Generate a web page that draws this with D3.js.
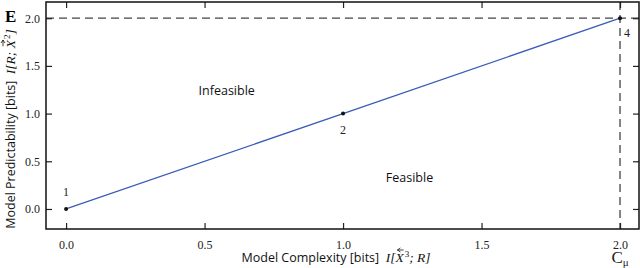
<!DOCTYPE html>
<html>
<head>
<meta charset="UTF-8">
<script src="https://d3js.org/d3.v7.min.js"></script>
<style>
    body { margin: 0; background: white; }
    svg { display: block; }
</style>
</head>
<body>
<svg id="chart" width="640" height="268"></svg>
<script>
    // data
    const pointX = [0, 1, 2]
    const pointY = [0, 1, 2]
    const pointLabels = ['1', '2', '4']
    const xTicks = [0, 0.5, 1, 1.5, 2]
    const yTicks = [0, 0.5, 1, 1.5, 2]
    const regionLabels = ['Infeasible', 'Feasible']
    const regionX = [0.58, 1.24]
    const regionY = [1.2, 0.28]

    const SERIF = '"Liberation Serif", "Times New Roman", serif'
    const SANS = '"Open Sans", sans-serif'

    const svg = d3.select('#chart')
    const margin = { top: 2, right: 1, bottom: 39, left: 46 }
    const width = 640, height = 268
    const innerWidth = width - margin.left - margin.right
    const innerHeight = height - margin.top - margin.bottom

    const xScale = d3.scaleLinear().domain([-0.0725, 2.0685]).range([0, innerWidth])
    const yScale = d3.scaleLinear().domain([-0.21, 2.17]).range([innerHeight, 0])

    const g = svg.append('g').attr('transform', `translate(${margin.left},${margin.top})`)

    // dashed guides at C_mu
    g.append('line')
        .attr('x1', 0).attr('x2', innerWidth)
        .attr('y1', yScale(2)).attr('y2', yScale(2))
        .style('stroke', '#444').style('stroke-width', 1.3).style('stroke-dasharray', '8,5')
    g.append('line')
        .attr('x1', xScale(2)).attr('x2', xScale(2))
        .attr('y1', 0).attr('y2', innerHeight)
        .style('stroke', '#444').style('stroke-width', 1.3).style('stroke-dasharray', '8,5')

    // axes with inward ticks on all sides
    const fmt = d3.format('.1f')
    const xAxis = g.append('g').attr('transform', `translate(0,${innerHeight})`)
        .call(d3.axisBottom(xScale).tickValues(xTicks).tickSize(-6).tickPadding(11).tickFormat(fmt))
    const yAxis = g.append('g')
        .call(d3.axisLeft(yScale).tickValues(yTicks).tickSize(-6).tickPadding(6).tickFormat(fmt))
    const xTop = g.append('g')
        .call(d3.axisTop(xScale).tickValues(xTicks).tickSize(-6).tickFormat(''))
    const yRight = g.append('g').attr('transform', `translate(${innerWidth},0)`)
        .call(d3.axisRight(yScale).tickValues(yTicks).tickSize(-6).tickFormat(''))
    ;[xAxis, yAxis, xTop, yRight].forEach(a => {
        a.select('.domain').remove()
        a.selectAll('line').style('stroke', '#222').style('stroke-width', 1.2)
        a.selectAll('text')
            .style('font-family', SERIF).style('font-size', '12px').style('fill', '#222')
    })
    xTop.selectAll('text').remove()
    yRight.selectAll('text').remove()

    // frame
    g.append('rect')
        .attr('x', 0).attr('y', 0)
        .attr('width', innerWidth).attr('height', innerHeight)
        .style('fill', 'none').style('stroke', '#111').style('stroke-width', 1.5)

    // line and points
    const line = d3.line().x((d, i) => xScale(pointX[i])).y((d, i) => yScale(pointY[i]))
    g.append('path')
        .datum(pointX)
        .attr('d', line)
        .style('fill', 'none').style('stroke', '#3a5cb8').style('stroke-width', 1.3)
    g.selectAll('circle.pt')
        .data(pointX)
        .enter()
        .append('circle')
        .attr('class', 'pt')
        .attr('cx', (d, i) => xScale(pointX[i]))
        .attr('cy', (d, i) => yScale(pointY[i]))
        .attr('r', 2)
        .style('fill', '#111')

    // point labels
    const labDx = [0, 0, 7]
    const labDy = [-13, 20, 19]
    g.selectAll('text.plab')
        .data(pointLabels)
        .enter()
        .append('text')
        .attr('class', 'plab')
        .attr('text-anchor', 'middle')
        .attr('x', (d, i) => xScale(pointX[i]) + labDx[i])
        .attr('y', (d, i) => yScale(pointY[i]) + labDy[i])
        .style('font-family', SERIF).style('font-size', '12px').style('fill', '#222')
        .text(d => d)

    // region labels
    g.selectAll('text.region')
        .data(regionLabels)
        .enter()
        .append('text')
        .attr('class', 'region')
        .attr('text-anchor', 'middle')
        .attr('x', (d, i) => xScale(regionX[i]))
        .attr('y', (d, i) => yScale(regionY[i]))
        .style('font-family', SANS).style('font-size', '12.5px').style('fill', '#111')
        .text(d => d)

    // panel letter
    svg.append('text')
        .attr('x', 5).attr('y', 22)
        .style('font-family', SERIF)
        .style('font-weight', 'bold').style('font-size', '17px')
        .text('E')

    // axis label: sans text + italic I[..] with an arrow over X
    function axisLabel(parent, sansText, before, after, sup, pointsLeft) {
        const t = parent.append('text').attr('text-anchor', 'middle')
        t.append('tspan')
            .style('font-family', SANS).style('font-size', '12.5px').style('fill', '#111')
            .text(sansText + '\u00a0\u00a0')
        const it = s => s.style('font-family', SERIF).style('font-style', 'italic')
            .style('font-size', '13.5px').style('fill', '#111')
        it(t.append('tspan')).text(before)
        it(t.append('tspan')).text('X')
        it(t.append('tspan')).attr('dx', 1).attr('dy', -5).style('font-size', '9px').style('font-style', 'normal').text(sup)
        it(t.append('tspan')).attr('dy', 5).text(after)
        // arrow over the X
        const node = t.node()
        const idx = (sansText + '  ' + before).length
        const p0 = node.getStartPositionOfChar(idx)
        const p1 = node.getEndPositionOfChar(idx)
        const ax0 = p0.x + 2, ax1 = p1.x, ay = p0.y - 12
        const tip = pointsLeft ? ax0 : ax1
        const dir = pointsLeft ? 1 : -1
        parent.append('path')
            .attr('d', `M${ax0},${ay}L${ax1},${ay}M${tip + dir * 3},${ay - 2}L${tip},${ay}L${tip + dir * 3},${ay + 2}`)
            .style('fill', 'none').style('stroke', '#111').style('stroke-width', 0.8)
        return t
    }

    const xl = svg.append('g').attr('transform', 'translate(336,262)')
    axisLabel(xl, 'Model Complexity [bits]', 'I[', '; R]', '3', true)

    const yl = svg.append('g').attr('transform', 'translate(15,129) rotate(-90)')
    axisLabel(yl, 'Model Predictability [bits]', 'I[R; ', ']', '2', false)

    // C_mu label
    const cm = svg.append('text')
        .attr('x', xScale(2) + margin.left)
        .attr('y', 263)
        .attr('text-anchor', 'middle')
        .style('font-family', SERIF)
        .style('font-size', '17px')
        .style('fill', '#222')
    cm.append('tspan').text('C')
    cm.append('tspan').attr('dy', 3).style('font-size', '11px').text('\u03bc')
</script>
</body>
</html>
